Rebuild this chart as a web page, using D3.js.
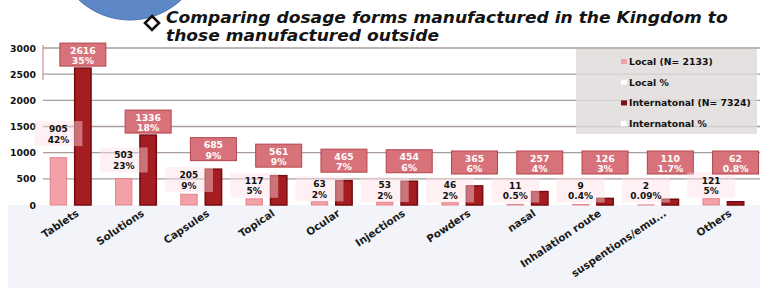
<!DOCTYPE html>
<html>
<head>
<meta charset="utf-8">
<script src="https://cdn.jsdelivr.net/npm/d3@7"></script>
<style>
  body { margin: 0; background: #fff; }
  svg { display: block; }
</style>
</head>
<body>
<div id="chart"></div>
<script>
const categories = ["Tablets", "Solutions", "Capsules", "Topical", "Ocular", "Injections", "Powders", "nasal", "Inhalation route", "suspentions/emu...", "Others"];
const localCounts = [905, 503, 205, 117, 63, 53, 46, 11, 9, 2, 121];
const localPct = ["42%", "23%", "9%", "5%", "2%", "2%", "2%", "0.5%", "0.4%", "0.09%", "5%"];
const intlCounts = [2616, 1336, 685, 561, 465, 454, 365, 257, 126, 110, 62];
const intlPct = ["35%", "18%", "9%", "9%", "7%", "6%", "6%", "4%", "3%", "1.7%", "0.8%"];
const yTicks = [0, 500, 1000, 1500, 2000, 2500, 3000];
const legendItems = ["Local  (N= 2133)", "Local %", "Internatonal (N= 7324)", "Internatonal %"];
const titleLines = ["Comparing dosage forms manufactured in the Kingdom to", "those manufactured outside"];

const W = 768, H = 290;
const font = "'DejaVu Sans', sans-serif";

const svg = d3.select("#chart").append("svg").attr("width", W).attr("height", H);

// backgrounds
svg.append("rect").attr("x", 8).attr("y", 205).attr("width", 752).attr("height", 83).attr("fill", "#f2f4f9");
svg.append("circle").attr("cx", 130).attr("cy", -55).attr("r", 75)
  .attr("fill", "#5d87c6").attr("stroke", "#4670ae").attr("stroke-width", 1);

// title
svg.append("path")
  .attr("d", "M152,16 L159,23 L152,30 L145,23 Z")
  .attr("fill", "#fff").attr("stroke", "#111").attr("stroke-width", 2.6);
const tl = svg.append("g").selectAll("text").data(titleLines).enter().append("text")
  .attr("y", (d, i) => 23 + i * 18.5)
  .attr("font-family", font)
  .attr("font-weight", "bold").attr("font-style", "italic")
  .attr("font-size", 16).attr("fill", "#141414")
  .text((d) => d);
const tw = tl.node().getComputedTextLength();
tl.attr("transform", `translate(166,0) scale(${562 / tw},1)`);

const x = d3.scaleBand().domain(categories).range([38, 756]);
const xs = d3.scaleBand().domain(["local", "intl"]).range([0, x.bandwidth()]).paddingInner(0.33).paddingOuter(0.5);
const y = d3.scaleLinear().domain([0, 3000]).range([205, 48]);

// grid
svg.append("g").selectAll("line").data(yTicks.filter((d) => d > 0)).enter().append("line")
  .attr("x1", 43).attr("x2", 760)
  .attr("y1", (d) => y(d)).attr("y2", (d) => y(d))
  .attr("stroke", "#a99c9c").attr("stroke-width", 1.3);
svg.append("line").attr("x1", 43).attr("x2", 43).attr("y1", 45).attr("y2", 80)
  .attr("stroke", "#c87a7a").attr("stroke-width", 1);

// y tick labels
svg.append("g").selectAll("text").data(yTicks).enter().append("text")
  .attr("x", 36).attr("y", (d) => y(d) + 3.5)
  .attr("text-anchor", "end")
  .attr("font-family", font).attr("font-weight", "bold").attr("font-size", 9.3).attr("fill", "#111")
  .text((d) => d);

// legend
const lg = svg.append("g");
lg.append("rect").attr("x", 576).attr("y", 49).attr("width", 181).attr("height", 85).attr("fill", "rgba(222,218,218,0.8)");
const lgi = lg.selectAll("g").data(legendItems).enter().append("g")
  .attr("transform", (d, i) => `translate(621,${65 + i * 20.7})`);
lgi.append("rect").attr("x", 0).attr("y", -6).attr("width", 6).attr("height", 5)
  .attr("fill", (d, i) => (i === 0 ? "#f3a1a8" : i === 2 ? "#7c0c10" : "#fff"));
lgi.append("text")
  .attr("x", 8)
  .attr("font-family", font).attr("font-weight", "bold").attr("font-size", 9.3).attr("fill", "#111")
  .text((d) => d);

// bars
const groups = svg.append("g").selectAll("g").data(categories).enter().append("g")
  .attr("transform", (d) => `translate(${x(d)},0)`);

groups.append("rect")
  .attr("x", xs("local")).attr("width", xs.bandwidth())
  .attr("y", (d, i) => y(localCounts[i])).attr("height", (d, i) => y(0) - y(localCounts[i]))
  .attr("fill", "#f3a1a8").attr("stroke", "#e7838c").attr("stroke-width", 1);

groups.append("rect")
  .attr("x", xs("intl")).attr("width", xs.bandwidth())
  .attr("y", (d, i) => y(intlCounts[i])).attr("height", (d, i) => y(0) - y(intlCounts[i]))
  .attr("fill", "#a31d21").attr("stroke", "#780b0f").attr("stroke-width", 1.5);

// local labels (faint boxes)
const lc = xs("local") + xs.bandwidth() / 2;
const localMid = (i) => Math.min(y(localCounts[i]) - 12 - (12 * localCounts[i]) / 900, 190);
groups.append("rect")
  .attr("x", lc - 24).attr("width", 48)
  .attr("y", (d, i) => localMid(i) - 12.5).attr("height", 25)
  .attr("fill", "rgba(255,222,228,0.45)");
groups.each(function (d, i) {
  const g = d3.select(this);
  [localCounts[i], localPct[i]].forEach((t, k) => {
    g.append("text")
      .attr("x", lc).attr("y", localMid(i) - 1.5 + k * 10.5)
      .attr("text-anchor", "middle")
      .attr("font-family", font).attr("font-weight", "bold").attr("font-size", 9).attr("fill", "#111")
      .text(t);
  });
});

// international labels (boxes)
const ic = xs("intl") + xs.bandwidth() / 2;
const intlBottom = (i) => Math.min(y(intlCounts[i]) - (intlCounts[i] > 1000 ? 2 : 8.5), 174);
groups.append("rect")
  .attr("x", ic - 23).attr("width", 46)
  .attr("y", (d, i) => intlBottom(i) - 23).attr("height", 23)
  .attr("fill", "#d8727a").attr("stroke", "#b5434b").attr("stroke-width", 1);
groups.each(function (d, i) {
  const g = d3.select(this);
  [intlCounts[i], intlPct[i]].forEach((t, k) => {
    g.append("text")
      .attr("x", ic).attr("y", intlBottom(i) - 12.5 + k * 10.5)
      .attr("text-anchor", "middle")
      .attr("font-family", font).attr("font-weight", "bold").attr("font-size", 9.3).attr("fill", "#fff")
      .text(t);
  });
});

// x labels
svg.append("g").selectAll("text").data(categories).enter().append("text")
  .attr("transform", (d) => `translate(${x(d) + x.bandwidth() / 2 + 9},215) rotate(-34)`)
  .attr("text-anchor", "end")
  .attr("font-family", font).attr("font-weight", "bold").attr("font-size", 10.4).attr("fill", "#1a1a1a")
  .text((d) => d);
</script>
</body>
</html>
